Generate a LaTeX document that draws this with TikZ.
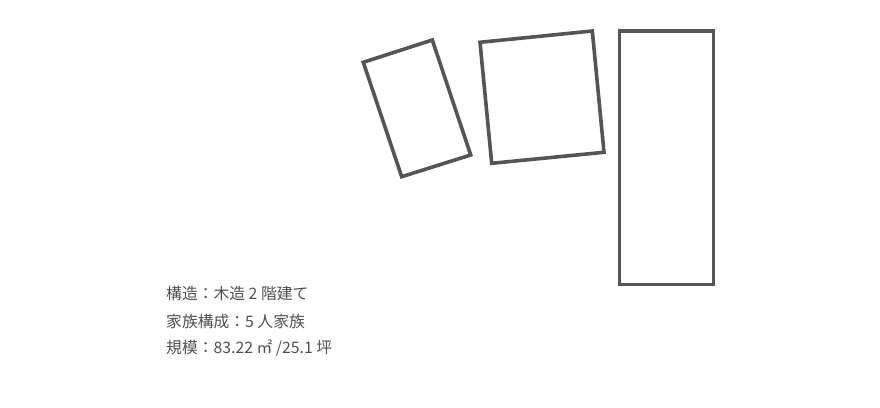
\documentclass[tikz,border=0pt]{standalone}
\usepackage{fontspec}
\newfontfamily\jpfont{Noto Sans CJK JP}
\definecolor{boxgray}{HTML}{555555}
\definecolor{txtgray}{HTML}{505050}
\tikzset{
  plan/.style={draw=boxgray, line width=3.6pt, line join=miter},
  info/.style={anchor=west, inner sep=0pt, text=txtgray, font=\jpfont\fontsize{15.8}{18}\selectfont}
}
\begin{document}
\begin{tikzpicture}[x=1pt,y=-1pt]
\useasboundingbox (0,0) rectangle (880,407);
\coordinate (a1) at (363.3,62.3);
\coordinate (a2) at (432.3,40);
\coordinate (a3) at (470.7,155);
\coordinate (a4) at (401.7,176.7);
\draw[plan] (a1) -- (a2) -- (a3) -- (a4) -- cycle;
\coordinate (b1) at (480,42.3);
\coordinate (b2) at (592.3,31);
\coordinate (b3) at (604,152.3);
\coordinate (b4) at (491.7,163.3);
\draw[plan] (b1) -- (b2) -- (b3) -- (b4) -- cycle;
\coordinate (c1) at (619.3,31);
\coordinate (c2) at (713.3,31);
\coordinate (c3) at (713.3,284.3);
\coordinate (c4) at (619.3,284.3);
\draw[plan] (c1) -- (c2) -- (c3) -- (c4) -- cycle;
\node[info] (t1) at (166,294) {構造：木造 2 階建て};
\node[info] (t2) at (166,321.5) {家族構成：5 人家族};
\node[info] (t3) at (166,348) {規模：83.22 ㎡ /25.1 坪};
\end{tikzpicture}
\end{document}
